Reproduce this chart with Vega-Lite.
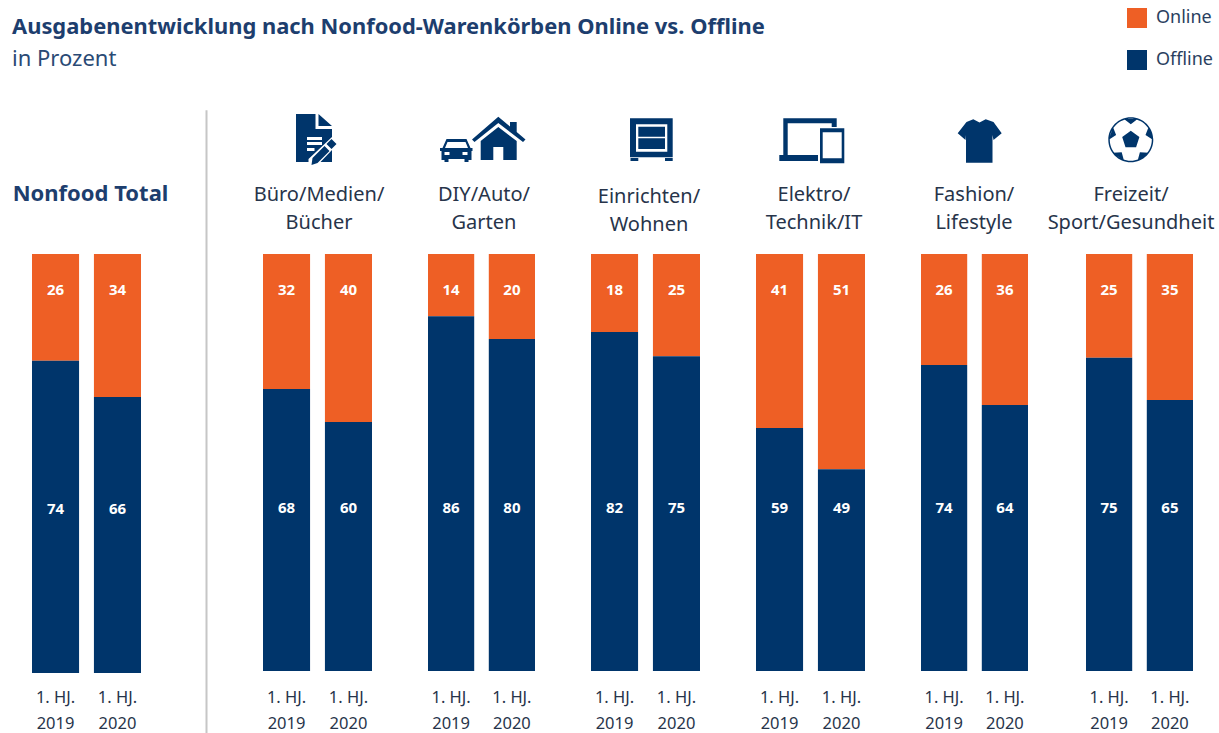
{"$schema":"https://vega.github.io/schema/vega-lite/v6.json","padding":{"left":12,"top":8,"right":0,"bottom":0},"background":"white","title":{"text":"Ausgabenentwicklung nach Nonfood-Warenkörben Online vs. Offline","subtitle":"in Prozent","anchor":"start","frame":"group","dx":-20,"offset":-63,"font":"Noto Sans","fontSize":21.9,"fontWeight":"bold","color":"#1d3e6e","subtitleFont":"Noto Sans","subtitleFontSize":22,"subtitleColor":"#2a4a75","subtitlePadding":10},"config":{"view":{"stroke":null},"legend":{"orient":"none","legendX":1095,"legendY":-246,"symbolType":"square","symbolSize":400,"symbolStrokeWidth":0,"rowPadding":22,"labelFont":"Noto Sans","labelFontSize":18,"labelColor":"#2a3f60","labelOffset":9},"axis":{"labelFont":"Noto Sans","labelFontSize":16.5,"labelColor":"#27344a","labelLineHeight":26,"labelAngle":0,"domain":false,"ticks":false,"title":null,"labelPadding":18,"labelExpr":"[slice(datum.label,0,6),slice(datum.label,7)]"},"title":{"font":"Noto Sans","fontSize":20,"fontWeight":"normal","color":"#27344a","lineHeight":28,"anchor":"middle","frame":"group"},"text":{"font":"Noto Sans","fontSize":15,"fontWeight":"bold","color":"white"}},"datasets":{"rows":[{"category":"Nonfood Total","period":"1. HJ. 2019","series":"Online","share":25.5,"label":26},{"category":"Nonfood Total","period":"1. HJ. 2019","series":"Offline","share":74.5,"label":74},{"category":"Nonfood Total","period":"1. HJ. 2020","series":"Online","share":34.1,"label":34},{"category":"Nonfood Total","period":"1. HJ. 2020","series":"Offline","share":65.9,"label":66},{"category":"Büro","period":"1. HJ. 2019","series":"Online","share":32.4,"label":32},{"category":"Büro","period":"1. HJ. 2019","series":"Offline","share":67.6,"label":68},{"category":"Büro","period":"1. HJ. 2020","series":"Online","share":40.3,"label":40},{"category":"Büro","period":"1. HJ. 2020","series":"Offline","share":59.7,"label":60},{"category":"DIY","period":"1. HJ. 2019","series":"Online","share":14.9,"label":14},{"category":"DIY","period":"1. HJ. 2019","series":"Offline","share":85.1,"label":86},{"category":"DIY","period":"1. HJ. 2020","series":"Online","share":20.4,"label":20},{"category":"DIY","period":"1. HJ. 2020","series":"Offline","share":79.6,"label":80},{"category":"Einrichten","period":"1. HJ. 2019","series":"Online","share":18.7,"label":18},{"category":"Einrichten","period":"1. HJ. 2019","series":"Offline","share":81.3,"label":82},{"category":"Einrichten","period":"1. HJ. 2020","series":"Online","share":24.5,"label":25},{"category":"Einrichten","period":"1. HJ. 2020","series":"Offline","share":75.5,"label":75},{"category":"Elektro","period":"1. HJ. 2019","series":"Online","share":41.7,"label":41},{"category":"Elektro","period":"1. HJ. 2019","series":"Offline","share":58.3,"label":59},{"category":"Elektro","period":"1. HJ. 2020","series":"Online","share":51.6,"label":51},{"category":"Elektro","period":"1. HJ. 2020","series":"Offline","share":48.4,"label":49},{"category":"Fashion","period":"1. HJ. 2019","series":"Online","share":26.6,"label":26},{"category":"Fashion","period":"1. HJ. 2019","series":"Offline","share":73.4,"label":74},{"category":"Fashion","period":"1. HJ. 2020","series":"Online","share":36.2,"label":36},{"category":"Fashion","period":"1. HJ. 2020","series":"Offline","share":63.8,"label":64},{"category":"Freizeit","period":"1. HJ. 2019","series":"Online","share":24.9,"label":25},{"category":"Freizeit","period":"1. HJ. 2019","series":"Offline","share":75.1,"label":75},{"category":"Freizeit","period":"1. HJ. 2020","series":"Online","share":35,"label":35},{"category":"Freizeit","period":"1. HJ. 2020","series":"Offline","share":65,"label":65}]},"bounds":"flush","spacing":65,"hconcat":[
{"width":109,"height":419,"data":{"name":"rows"},"transform":[{"filter":"datum.category=='Nonfood Total'"}],"title":{"text":"Nonfood Total","font":"Noto Sans","fontSize":22,"fontWeight":"bold","color":"#1d3e6e","offset":48,"dx":4},"encoding":{"x":{"field":"period","type":"nominal","axis":{"labelPadding":16},"scale":{"paddingInner":0.24,"paddingOuter":0}}},"layer":[{"mark":"bar","encoding":{"y":{"field":"share","type":"quantitative","stack":"zero","axis":null,"scale":{"domain":[0,100],"nice":false}},"color":{"field":"series","type":"nominal","title":null,"scale":{"domain":["Online","Offline"],"range":["#ee5f25","#00356b"]}},"order":{"field":"series","sort":"ascending"}}},{"transform":[{"filter":"datum.series=='Online'"}],"mark":"text","encoding":{"y":{"datum":91.4},"text":{"field":"label","type":"quantitative"}}},{"transform":[{"filter":"datum.series=='Offline'"}],"mark":"text","encoding":{"y":{"datum":39.2},"text":{"field":"label","type":"quantitative"}}}]},
{"bounds":"flush","spacing":56,"hconcat":[
{"width":1,"height":417,"data":{"values":[{"top":134.5,"bottom":-15}]},"mark":{"type":"rule","color":"#c6c6c6","strokeWidth":2,"clip":false},"encoding":{"y":{"field":"top","type":"quantitative","axis":null,"scale":{"domain":[0,100],"nice":false}},"y2":{"field":"bottom"}}},
{"width":109,"height":417,"data":{"name":"rows"},"transform":[{"filter":"datum.category=='Büro'"}],"title":{"text":["Büro/Medien/","Bücher"],"dx":1.5,"offset":-119},"encoding":{"x":{"field":"period","type":"nominal","scale":{"paddingInner":0.24,"paddingOuter":0}}},"layer":[{"mark":"bar","encoding":{"y":{"field":"share","type":"quantitative","stack":"zero","axis":null,"scale":{"domain":[0,100],"nice":false}},"color":{"field":"series","type":"nominal","title":null,"scale":{"domain":["Online","Offline"],"range":["#ee5f25","#00356b"]}},"order":{"field":"series","sort":"ascending"}}},{"transform":[{"filter":"datum.series=='Online'"}],"mark":"text","encoding":{"y":{"datum":91.4},"text":{"field":"label","type":"quantitative"}}},{"transform":[{"filter":"datum.series=='Offline'"}],"mark":"text","encoding":{"y":{"datum":39.1},"text":{"field":"label","type":"quantitative"}}},{"transform":[{"filter":"datum.series=='Online'&&datum.period=='1. HJ. 2019'"}],"mark":{"type":"point","filled":true,"opacity":1,"color":"#00356b","size":4,"clip":false,"shape":"M-21.5 -24H-2V-9H14.5V-1L-9 21V24H-21.5ZM1 -24L14.5 -12H1ZM-10.5 -1V2H4.5V-1ZM-10.5 4V7H4.5V4ZM-10.5 10V13H-3V10ZM9 6L14 1L19 6L14 11ZM7 8L12 13L0 25L-6 27L-5 20ZM14.5 12V24H3Z"},"encoding":{"x":null,"y":{"datum":127.8}}}]},
{"width":107,"height":417,"data":{"name":"rows"},"transform":[{"filter":"datum.category=='DIY'"}],"title":{"text":["DIY/Auto/","Garten"],"dx":2.5,"offset":-116},"encoding":{"x":{"field":"period","type":"nominal","scale":{"paddingInner":0.24,"paddingOuter":0}}},"layer":[{"mark":"bar","encoding":{"y":{"field":"share","type":"quantitative","stack":"zero","axis":null,"scale":{"domain":[0,100],"nice":false}},"color":{"field":"series","type":"nominal","title":null,"scale":{"domain":["Online","Offline"],"range":["#ee5f25","#00356b"]}},"order":{"field":"series","sort":"ascending"}}},{"transform":[{"filter":"datum.series=='Online'"}],"mark":"text","encoding":{"y":{"datum":91.4},"text":{"field":"label","type":"quantitative"}}},{"transform":[{"filter":"datum.series=='Offline'"}],"mark":"text","encoding":{"y":{"datum":39.1},"text":{"field":"label","type":"quantitative"}}},{"transform":[{"filter":"datum.series=='Online'&&datum.period=='1. HJ. 2019'"}],"mark":{"type":"point","filled":true,"opacity":1,"color":"#00356b","size":4,"clip":false,"shape":"M16.8 -21.3L28.5 -11.5V-16H35.2V-6L44 1.5L41.5 4L16.8 -15L-7 4L-9.5 1.5ZM16.8 -11L35.2 3V22H21.8V9H11.8V22H-0.8V3ZM-35 1H-15L-11 10H-9V13H-10V22H-13V24H-17V21H-33V24H-37V22H-40V13H-41.5V10H-39ZM-34 4L-36.5 10H-13.5L-16 4ZM-37 14V17H-32V14ZM-19 14V17H-14V14Z"},"encoding":{"x":null,"y":{"datum":127.8}}}]},
{"width":109,"height":417,"data":{"name":"rows"},"transform":[{"filter":"datum.category=='Einrichten'"}],"title":{"text":["Einrichten/","Wohnen"],"dx":3.5,"offset":-117},"encoding":{"x":{"field":"period","type":"nominal","scale":{"paddingInner":0.24,"paddingOuter":0}}},"layer":[{"mark":"bar","encoding":{"y":{"field":"share","type":"quantitative","stack":"zero","axis":null,"scale":{"domain":[0,100],"nice":false}},"color":{"field":"series","type":"nominal","title":null,"scale":{"domain":["Online","Offline"],"range":["#ee5f25","#00356b"]}},"order":{"field":"series","sort":"ascending"}}},{"transform":[{"filter":"datum.series=='Online'"}],"mark":"text","encoding":{"y":{"datum":91.4},"text":{"field":"label","type":"quantitative"}}},{"transform":[{"filter":"datum.series=='Offline'"}],"mark":"text","encoding":{"y":{"datum":39.1},"text":{"field":"label","type":"quantitative"}}},{"transform":[{"filter":"datum.series=='Online'&&datum.period=='1. HJ. 2019'"}],"mark":{"type":"point","filled":true,"opacity":1,"color":"#00356b","size":4,"clip":false,"shape":"M-15.5 -19.7H27.2V19.3H-15.5ZM-9.5 -13.7V13.7H21.8V-13.7ZM-7.2 -11.3H19.5V-1.3H-7.2ZM-7.2 0.3H19.5V11H-7.2ZM-15 20H-7.2V23H-15ZM19.5 20H27.2V23H19.5Z"},"encoding":{"x":null,"y":{"datum":127.8}}}]},
{"width":109,"height":417,"data":{"name":"rows"},"transform":[{"filter":"datum.category=='Elektro'"}],"title":{"text":["Elektro/","Technik/IT"],"dx":3.5,"offset":-115},"encoding":{"x":{"field":"period","type":"nominal","scale":{"paddingInner":0.24,"paddingOuter":0}}},"layer":[{"mark":"bar","encoding":{"y":{"field":"share","type":"quantitative","stack":"zero","axis":null,"scale":{"domain":[0,100],"nice":false}},"color":{"field":"series","type":"nominal","title":null,"scale":{"domain":["Online","Offline"],"range":["#ee5f25","#00356b"]}},"order":{"field":"series","sort":"ascending"}}},{"transform":[{"filter":"datum.series=='Online'"}],"mark":"text","encoding":{"y":{"datum":91.4},"text":{"field":"label","type":"quantitative"}}},{"transform":[{"filter":"datum.series=='Offline'"}],"mark":"text","encoding":{"y":{"datum":39.1},"text":{"field":"label","type":"quantitative"}}},{"transform":[{"filter":"datum.series=='Online'&&datum.period=='1. HJ. 2019'"}],"mark":{"type":"point","filled":true,"opacity":1,"color":"#00356b","size":4,"clip":false,"shape":"M-27.2 -19.7H26.2V-11H21.2V-14.7H-22.8V17H7.5V23H-31.2V17H-27.2ZM9.5 -9.7H33.8V25.3H9.5ZM12.2 -5.7V20.3H31.2V-5.7Z"},"encoding":{"x":null,"y":{"datum":127.8}}}]},
{"bounds":"flush","spacing":58,"hconcat":[
{"width":107,"height":417,"data":{"name":"rows"},"transform":[{"filter":"datum.category=='Fashion'"}],"title":{"text":["Fashion/","Lifestyle"],"dx":-0.5,"offset":-114},"encoding":{"x":{"field":"period","type":"nominal","scale":{"paddingInner":0.24,"paddingOuter":0}}},"layer":[{"mark":"bar","encoding":{"y":{"field":"share","type":"quantitative","stack":"zero","axis":null,"scale":{"domain":[0,100],"nice":false}},"color":{"field":"series","type":"nominal","title":null,"scale":{"domain":["Online","Offline"],"range":["#ee5f25","#00356b"]}},"order":{"field":"series","sort":"ascending"}}},{"transform":[{"filter":"datum.series=='Online'"}],"mark":"text","encoding":{"y":{"datum":91.4},"text":{"field":"label","type":"quantitative"}}},{"transform":[{"filter":"datum.series=='Offline'"}],"mark":"text","encoding":{"y":{"datum":39.1},"text":{"field":"label","type":"quantitative"}}},{"transform":[{"filter":"datum.series=='Online'&&datum.period=='1. HJ. 2019'"}],"mark":{"type":"point","filled":true,"opacity":1,"color":"#00356b","size":4,"clip":false,"shape":"M-1.2 -18.7L5 -15.5L11.2 -18.7L19 -16L27.2 -4.7L19 2L18 -3V24.7H-8.5V-3L-9 2L-16.8 -4.7L-8 -16Z"},"encoding":{"x":null,"y":{"datum":127.8}}}]},
{"width":107,"height":417,"data":{"name":"rows"},"transform":[{"filter":"datum.category=='Freizeit'"}],"title":{"text":["Freizeit/","Sport/Gesundheit"],"dx":-8.5,"offset":-116},"encoding":{"x":{"field":"period","type":"nominal","scale":{"paddingInner":0.24,"paddingOuter":0}}},"layer":[{"mark":"bar","encoding":{"y":{"field":"share","type":"quantitative","stack":"zero","axis":null,"scale":{"domain":[0,100],"nice":false}},"color":{"field":"series","type":"nominal","title":null,"scale":{"domain":["Online","Offline"],"range":["#ee5f25","#00356b"]}},"order":{"field":"series","sort":"ascending"}}},{"transform":[{"filter":"datum.series=='Online'"}],"mark":"text","encoding":{"y":{"datum":91.4},"text":{"field":"label","type":"quantitative"}}},{"transform":[{"filter":"datum.series=='Offline'"}],"mark":"text","encoding":{"y":{"datum":39.1},"text":{"field":"label","type":"quantitative"}}},{"transform":[{"filter":"datum.series=='Online'&&datum.period=='1. HJ. 2019'"}],"mark":{"type":"point","filled":true,"opacity":1,"color":"#00356b","size":4,"clip":false,"shape":"M-31.2 1.8A22.5 22.5 0 1 1 13.8 1.8A22.5 22.5 0 1 1 -31.2 1.8ZM-29.7 1.8A21 21 0 1 0 12.3 1.8A21 21 0 1 0 -29.7 1.8ZM-15.5 -19.1L-1.9 -19.1L-8.7 -13.7ZM9.1 -11.1L13.3 1.8L6 -3ZM9.1 14.7L-1.9 22.7L0.4 14.3ZM-15.5 22.7L-26.5 14.7L-17.8 14.3ZM-30.7 1.8L-26.5 -11.1L-23.4 -3ZM-8.7 -7.2L-0.1 -1L-3.4 9.1L-14 9.1L-17.3 -1Z"},"encoding":{"x":null,"y":{"datum":127.8}}}]}
]}
]}
]}
